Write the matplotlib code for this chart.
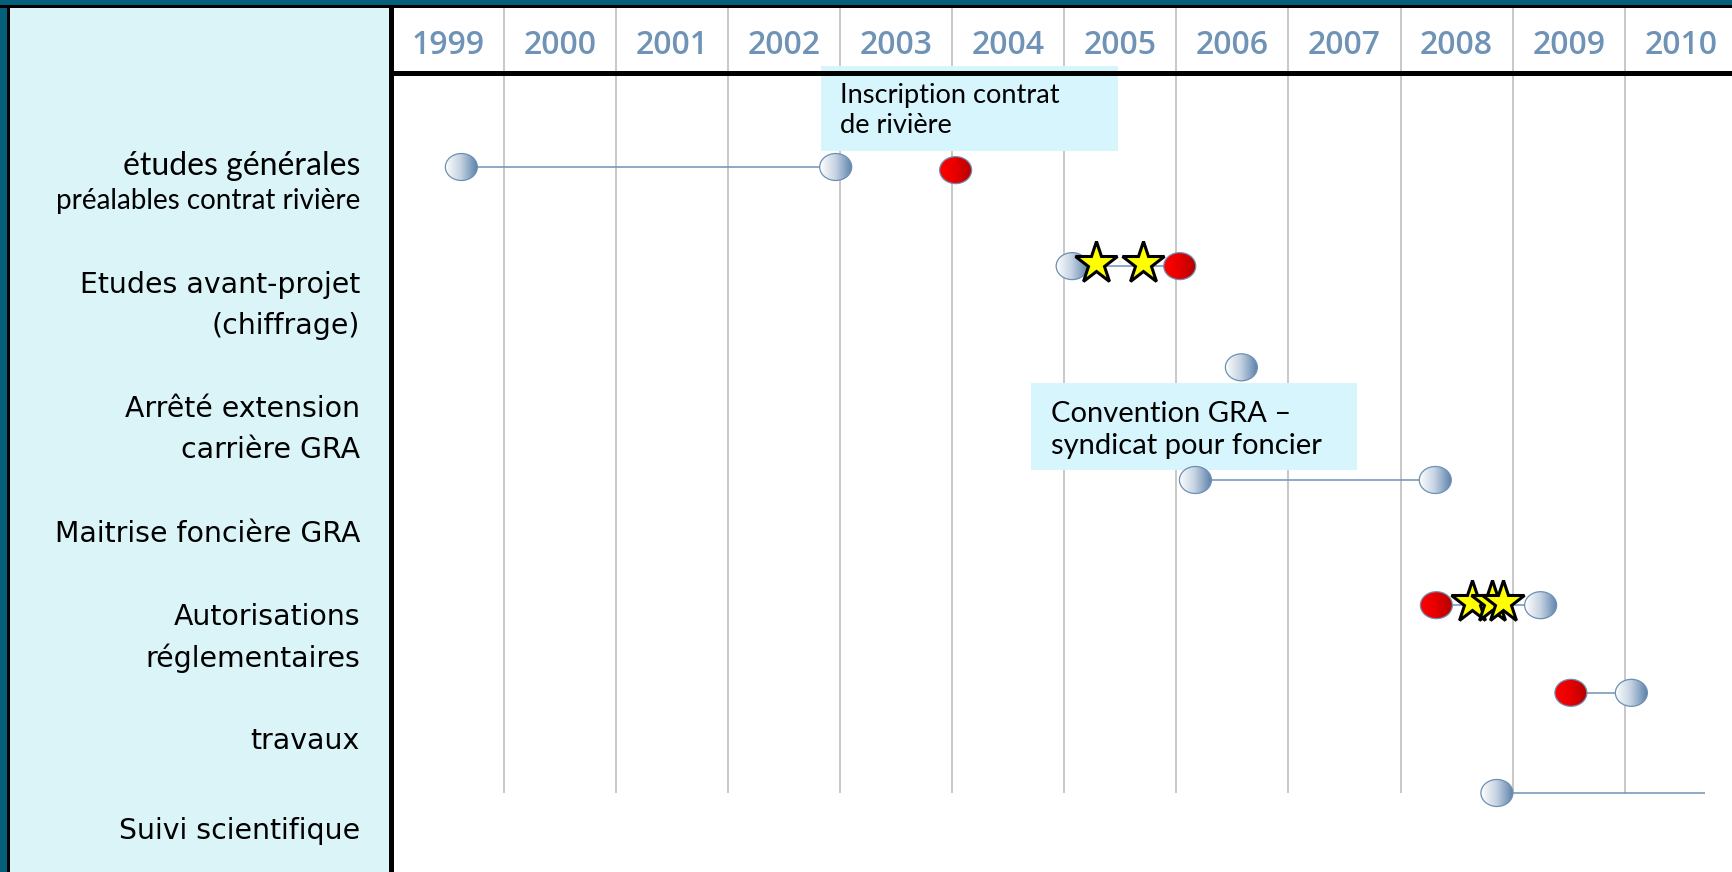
import numpy as np
import matplotlib
matplotlib.use("Agg")
import matplotlib.pyplot as plt
from matplotlib.patches import Ellipse, Rectangle
from matplotlib.colors import LinearSegmentedColormap
from matplotlib.markers import MarkerStyle
import matplotlib.transforms as mtransforms

# ---------------- data ----------------
years = list(range(1999, 2011))

row_labels = [
    "études générales\npréalables contrat rivière",
    "Etudes avant-projet\n(chiffrage)",
    "Arrêté extension\ncarrière GRA",
    "Maitrise foncière GRA",
    "Autorisations\nréglementaires",
    "travaux",
    "Suivi scientifique",
]
# vertical position (row units, top = 0) of the first line of each label
label_y = [-0.01, 1.13, 2.32, 3.52, 4.31, 5.50, 6.36]

# milestones (blue = start/end, red = key dates, stars = events)
blue_x = [1999.62, 2002.96, 2005.07, 2006.58, 2006.17, 2008.31, 2009.25, 2010.06, 2008.86]
blue_y = [0.00, 0.00, 0.95, 1.92, 3.00, 3.00, 4.20, 5.04, 6.00]
red_x = [2004.03, 2006.03, 2008.32, 2009.52]
red_y = [0.03, 0.95, 4.20, 5.04]
star_x = [2005.28, 2005.70, 2008.64, 2008.82, 2008.91]
star_y = [0.95, 0.95, 4.20, 4.20, 4.20]

# spans connecting milestones
span_start = [1999.62, 2005.07, 2006.17, 2008.32, 2009.52, 2008.86]
span_end = [2002.96, 2006.03, 2008.31, 2009.25, 2010.06, 2010.72]
span_y = [0.00, 0.95, 3.00, 4.20, 5.04, 6.00]

# annotation boxes: text, x0, x1, y0, y1
notes = ["Inscription contrat\nde rivière", "Convention GRA –\nsyndicat pour foncier"]
note_x0 = [2002.83, 2004.70]
note_x1 = [2005.48, 2007.61]
note_y0 = [-0.968, 2.07]
note_y1 = [-0.150, 2.90]

# ---------------- layout ----------------
W, H, DPI = 1733, 872, 100
TEAL = "#04607A"
PANEL = "#DAF4F8"
NOTEBG = "#D6F5FD"
GRID = "#C8C8C8"
YEARC = "#6F93B7"
EDGE = "#6D8FB4"
LINEC = "#6F92B6"

fig = plt.figure(figsize=(W / DPI, H / DPI), dpi=DPI, facecolor=TEAL)

def fx(px):
    return px / W

def fy(py):
    return 1 - py / H

def frect(x0, y0, x1, y1, color, z, **kw):
    r = Rectangle((fx(x0), fy(y1)), fx(x1) - fx(x0), fy(y0) - fy(y1),
                  transform=fig.transFigure, facecolor=color, zorder=z, **kw)
    fig.add_artist(r)

# backgrounds
frect(8, 6, 392, H + 2, PANEL, -2, edgecolor="none")
frect(392, 6.5, W + 2, H + 2, "white", -2, edgecolor="none")
frect(0, 5.5, W, 8.5, "black", 9, edgecolor="none")
frect(7.5, 6, 10.5, H + 2, "black", 9, edgecolor="none")
# thick black separators
frect(389.5, 6, 394.5, H + 2, "black", 10, edgecolor="none")
frect(389.5, 71, W + 2, 76, "black", 10, edgecolor="none")

x0px = 391.9
colw = 112.07
xlim = (1999, 1999 + (W - x0px) / colw)
row_px = 104.33
top_row = -(167 - 76) / row_px
bot_row = (H - 167) / row_px

ax_head = fig.add_axes([fx(x0px), fy(71), 1 - fx(x0px), (71 - 8.5) / H])
ax = fig.add_axes([fx(x0px), 0, 1 - fx(x0px), fy(76)])
for a in (ax_head, ax):
    a.set_facecolor("none")
    a.set_axis_off()
    a.set_xlim(*xlim)
ax_head.set_ylim(0, 1)
ax.set_autoscale_on(False)
ax.set_ylim(bot_row, top_row)

# header years
ax_head.vlines(years[1:], 0, 1, color=GRID, lw=1.4, zorder=1)
for yr in years:
    ax_head.text(yr + 0.5, 0.28, str(yr), ha="center", va="baseline",
                 fontsize=23, color=YEARC, family="Open Sans", fontweight="semibold")

# grid lines in body
ax.vlines(years[1:], top_row, span_y[-1], color=GRID, lw=1.4, zorder=1)

# annotation boxes
for t, a0, a1, b0, b1 in zip(notes, note_x0, note_x1, note_y0, note_y1):
    ax.add_patch(Rectangle((a0, b0), a1 - a0, b1 - b0, facecolor=NOTEBG,
                           edgecolor="none", zorder=2, clip_on=False))
ax.text(2003.0, -0.54, notes[0], ha="left", va="center", fontsize=19.6,
        family="Lato", color="black", zorder=2.5, linespacing=1.25)
ax.text(2004.88, 2.52, notes[1], ha="left", va="center", fontsize=21,
        family="Lato", color="black", zorder=2.5, linespacing=1.3)

# spans
ax.hlines(span_y, span_start, span_end, color=LINEC, lw=1.1, zorder=3)

# gradient ellipses
px_x = (W - x0px) / (xlim[1] - xlim[0])
px_y = row_px
EW, EH = 32, 27

def gradient_ellipse(x, y, cols, z=4):
    w, h = EW / px_x, EH / px_y
    e = Ellipse((x, y), w, h, facecolor="none", edgecolor=EDGE, lw=0.9, zorder=z + 0.1)
    ax.add_patch(e)
    cmap = LinearSegmentedColormap.from_list("g", cols)
    grad = np.linspace(0, 1, 128)[None, :]
    im = ax.imshow(grad, cmap=cmap, extent=(x - w / 2, x + w / 2, y + h / 2, y - h / 2),
                   aspect="auto", zorder=z, interpolation="bilinear")
    im.set_clip_path(e)

for x, y in zip(blue_x, blue_y):
    gradient_ellipse(x, y, ["#FFFFFF", "#C3D1E1", "#5F84AC"])
for x, y in zip(red_x, red_y):
    gradient_ellipse(x, y, ["#FF0000", "#E60000", "#B40000"])

star_tr = mtransforms.offset_copy(ax.transData, fig=fig, y=2.2, units="points")
ax.plot(star_x, star_y, ls="none", marker=MarkerStyle("*", joinstyle="miter"), ms=31.5,
        mfc="#FFFF00", mec="black", mew=2.2, zorder=6, transform=star_tr)

# row labels in the left panel
lab_tr = mtransforms.blended_transform_factory(fig.transFigure, ax.transData)
for i, (lab, yy) in enumerate(zip(row_labels, label_y)):
    lines = lab.split("\n")
    for j, line in enumerate(lines):
        if i == 0:
            fam, fs, gap = "Lato", (23 if j == 0 else 20), 0.34
        else:
            fam, fs, gap = "DejaVu Sans", 20.4, 0.395
        ax.text(fx(360), yy + j * gap, line, transform=lab_tr, ha="right", va="center",
                fontsize=fs, family=fam, color="black", clip_on=False)

ax.set_xlim(*xlim)
ax.set_ylim(bot_row, top_row)
fig.savefig("out.png", dpi=DPI, facecolor=TEAL)
